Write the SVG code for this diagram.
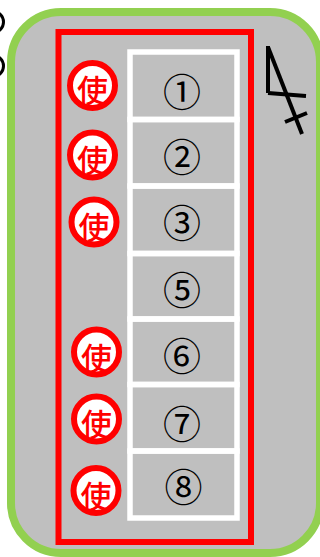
<svg xmlns="http://www.w3.org/2000/svg" width="320" height="557" viewBox="0 0 320 557">
<style>
.stamp{fill:#fff;stroke:#f00;stroke-width:6}
.st{font-family:"Noto Sans CJK JP",sans-serif;font-size:31px;font-weight:500;fill:#f00;text-anchor:middle}
.num{font-family:"Noto Sans CJK JP",sans-serif;font-size:38px;fill:#000;text-anchor:middle}
.ln{fill:none;stroke:#000;stroke-width:4}
.cell{fill:none;stroke:#fff;stroke-width:5.5}
</style>
<rect width="320" height="557" fill="#fff"/>
<g id="edge-marks" class="ln" style="stroke-width:3"><circle cx="-7" cy="22" r="10.5"/><circle cx="-7" cy="66" r="10.5"/></g>
<g id="yard"><rect x="11" y="12" width="309" height="541" rx="50" ry="50" fill="#bfbfbf" stroke="#92d050" stroke-width="8"/></g>
<g id="zone"><rect x="58.5" y="32" width="192.5" height="510" fill="none" stroke="#f00" stroke-width="6"/></g>
<g id="cell-1"><rect class="cell" x="130" y="52" width="107" height="67.5"/><text class="num" x="182" y="106">①</text></g>
<g id="cell-2"><rect class="cell" x="130" y="119.5" width="107" height="66.5"/><text class="num" x="182" y="170.500">②</text></g>
<g id="cell-3"><rect class="cell" x="130" y="186" width="107" height="67.500"/><text class="num" x="182" y="236.500">③</text></g>
<g id="cell-5"><rect class="cell" x="130" y="253.500" width="107" height="65.500"/><text class="num" x="182" y="303.500">⑤</text></g>
<g id="cell-6"><rect class="cell" x="130" y="319" width="107" height="65.500"/><text class="num" x="182" y="369.500">⑥</text></g>
<g id="cell-7"><rect class="cell" x="130" y="384.500" width="107" height="66.500"/><text class="num" x="182" y="438">⑦</text></g>
<g id="cell-8"><rect class="cell" x="130" y="451" width="107" height="67"/><text class="num" x="183.500" y="501">⑧</text></g>
<g id="stamp-1"><circle class="stamp" cx="92.500" cy="85.500" r="22.500"/><text class="st" x="92.500" y="102">使</text></g>
<g id="stamp-2"><circle class="stamp" cx="92.500" cy="155" r="22.500"/><text class="st" x="92.500" y="172">使</text></g>
<g id="stamp-3"><circle class="stamp" cx="94" cy="222" r="22.500"/><text class="st" x="94" y="239">使</text></g>
<g id="stamp-6"><circle class="stamp" cx="96.500" cy="352" r="22.500"/><text class="st" x="96.500" y="369.500">使</text></g>
<g id="stamp-7"><circle class="stamp" cx="96.500" cy="419" r="22.500"/><text class="st" x="96.500" y="436">使</text></g>
<g id="stamp-8"><circle class="stamp" cx="96" cy="490.500" r="22.500"/><text class="st" x="96" y="507.500">使</text></g>
<g id="north" class="ln"><path d="M268 46V93"/><path d="M268 47L302 134"/><path d="M268 93L306 96"/><path d="M285 122L307 113"/></g>
</svg>
